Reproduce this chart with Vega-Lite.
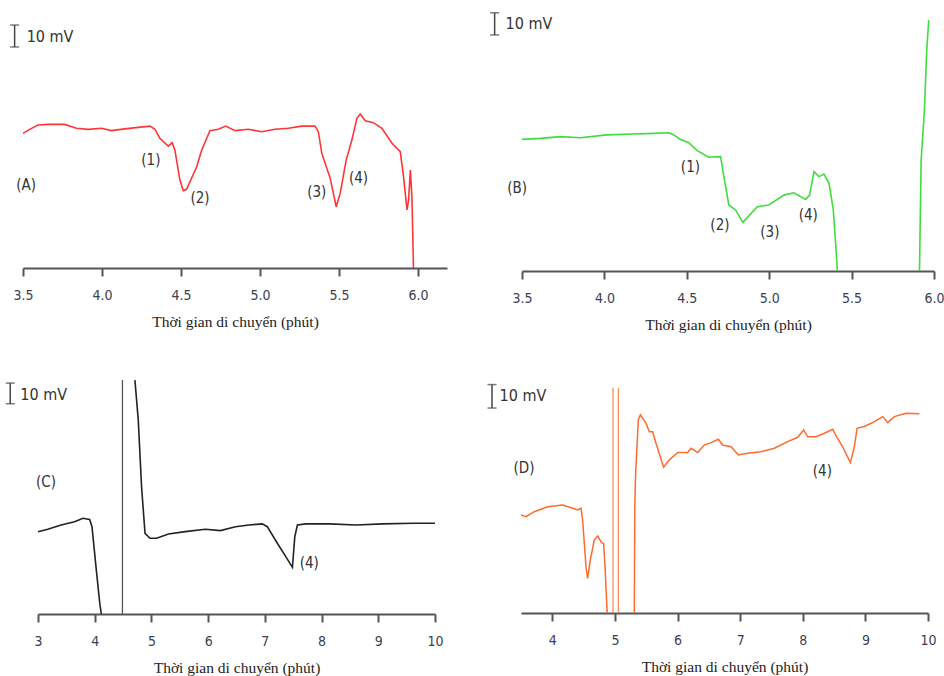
{
  "$schema": "https://vega.github.io/schema/vega-lite/v6.json",
  "padding": {"left": 5, "top": 10, "right": 0, "bottom": 0},
  "background": "white",
  "bounds": "flush",
  "spacing": 369,
  "config": {
    "view": {"stroke": null},
    "axis": {
      "grid": false,
      "domainColor": "#555",
      "domainWidth": 1.8,
      "tickColor": "#555",
      "tickWidth": 2,
      "tickSize": 8,
      "labelFont": "'DejaVu Sans Condensed', 'Liberation Sans', sans-serif",
      "labelFontSize": 14,
      "labelColor": "#3b4055",
      "labelPadding": 12,
      "labelFlush": false,
      "labelOverlap": false,
      "titleFont": "'Liberation Serif', serif",
      "titleFontSize": 15.5,
      "titleFontWeight": "normal",
      "titleColor": "#222",
      "titlePadding": 12
    },
    "text": {"font": "'DejaVu Sans Condensed', 'Liberation Sans', sans-serif", "fontSize": 15, "color": "#333"}
  },
  "datasets": {
    "a": [
      {"t": 3.5, "v": 62.6}, {"t": 3.542, "v": 64.5}, {"t": 3.595, "v": 66.5}, {"t": 3.658, "v": 66.8}, {"t": 3.764, "v": 66.8},
      {"t": 3.838, "v": 65.0}, {"t": 3.912, "v": 64.5}, {"t": 3.997, "v": 65.0}, {"t": 4.06, "v": 63.9}, {"t": 4.144, "v": 64.7},
      {"t": 4.229, "v": 65.4}, {"t": 4.303, "v": 66.0}, {"t": 4.335, "v": 64.5}, {"t": 4.366, "v": 60.3}, {"t": 4.419, "v": 56.7},
      {"t": 4.444, "v": 58.3}, {"t": 4.461, "v": 54.9}, {"t": 4.493, "v": 40.9}, {"t": 4.514, "v": 36.0}, {"t": 4.535, "v": 36.6},
      {"t": 4.599, "v": 47.1}, {"t": 4.631, "v": 54.9}, {"t": 4.683, "v": 63.9}, {"t": 4.736, "v": 64.5}, {"t": 4.783, "v": 66.0},
      {"t": 4.842, "v": 63.9}, {"t": 4.926, "v": 64.5}, {"t": 5.011, "v": 63.4}, {"t": 5.095, "v": 64.5}, {"t": 5.179, "v": 65.0},
      {"t": 5.264, "v": 66.0}, {"t": 5.348, "v": 66.0}, {"t": 5.369, "v": 63.4}, {"t": 5.391, "v": 53.3}, {"t": 5.444, "v": 41.7},
      {"t": 5.482, "v": 28.5}, {"t": 5.507, "v": 34.7}, {"t": 5.545, "v": 50.2}, {"t": 5.581, "v": 59.5}, {"t": 5.613, "v": 69.6},
      {"t": 5.634, "v": 71.6}, {"t": 5.666, "v": 68.5}, {"t": 5.718, "v": 67.6}, {"t": 5.771, "v": 65.0}, {"t": 5.835, "v": 58.0},
      {"t": 5.887, "v": 54.1}, {"t": 5.908, "v": 42.5}, {"t": 5.93, "v": 27.0}, {"t": 5.94, "v": 31.6}, {"t": 5.951, "v": 45.6},
      {"t": 5.961, "v": 33.2}, {"t": 5.971, "v": 0}
    ],
    "b": [
      {"seg": 1, "t": 3.5, "v": 61.2}, {"seg": 1, "t": 3.611, "v": 61.7}, {"seg": 1, "t": 3.733, "v": 62.5}, {"seg": 1, "t": 3.854, "v": 62.0},
      {"seg": 1, "t": 4.016, "v": 63.3}, {"seg": 1, "t": 4.178, "v": 63.7}, {"seg": 1, "t": 4.3, "v": 64.0}, {"seg": 1, "t": 4.391, "v": 64.3},
      {"seg": 1, "t": 4.421, "v": 63.3}, {"seg": 1, "t": 4.462, "v": 61.2}, {"seg": 1, "t": 4.512, "v": 59.7}, {"seg": 1, "t": 4.563, "v": 56.0},
      {"seg": 1, "t": 4.634, "v": 52.9}, {"seg": 1, "t": 4.705, "v": 53.2}, {"seg": 1, "t": 4.725, "v": 43.9}, {"seg": 1, "t": 4.755, "v": 30.7},
      {"seg": 1, "t": 4.796, "v": 28.4}, {"seg": 1, "t": 4.84, "v": 22.6}, {"seg": 1, "t": 4.928, "v": 29.9}, {"seg": 1, "t": 4.998, "v": 30.7},
      {"seg": 1, "t": 5.089, "v": 35.3}, {"seg": 1, "t": 5.15, "v": 36.4}, {"seg": 1, "t": 5.221, "v": 33.3}, {"seg": 1, "t": 5.245, "v": 35.3},
      {"seg": 1, "t": 5.272, "v": 46.2}, {"seg": 1, "t": 5.302, "v": 43.9}, {"seg": 1, "t": 5.332, "v": 45.1}, {"seg": 1, "t": 5.363, "v": 40.8},
      {"seg": 1, "t": 5.389, "v": 28.4}, {"seg": 1, "t": 5.403, "v": 12.9}, {"seg": 1, "t": 5.414, "v": 0},
      {"seg": 2, "t": 5.912, "v": 0}, {"seg": 2, "t": 5.922, "v": 51.6}, {"seg": 2, "t": 5.942, "v": 74.9}, {"seg": 2, "t": 5.956, "v": 102.8},
      {"seg": 2, "t": 5.968, "v": 116.7}
    ],
    "c": [
      {"seg": 1, "t": 3.0, "v": 38.3}, {"seg": 1, "t": 3.172, "v": 39.4}, {"seg": 1, "t": 3.408, "v": 41.4}, {"seg": 1, "t": 3.645, "v": 42.9},
      {"seg": 1, "t": 3.793, "v": 44.5}, {"seg": 1, "t": 3.911, "v": 44.0}, {"seg": 1, "t": 3.952, "v": 40.6}, {"seg": 1, "t": 4.028, "v": 20.5},
      {"seg": 1, "t": 4.089, "v": 5.0}, {"seg": 1, "t": 4.117, "v": 0},
      {"seg": 2, "t": 4.709, "v": 108.8}, {"seg": 2, "t": 4.768, "v": 90.2}, {"seg": 2, "t": 4.826, "v": 59.2}, {"seg": 2, "t": 4.887, "v": 37.5},
      {"seg": 2, "t": 4.975, "v": 35.2}, {"seg": 2, "t": 5.092, "v": 35.2}, {"seg": 2, "t": 5.3, "v": 37.2}, {"seg": 2, "t": 5.596, "v": 38.3},
      {"seg": 2, "t": 5.95, "v": 39.4}, {"seg": 2, "t": 6.216, "v": 38.8}, {"seg": 2, "t": 6.482, "v": 40.6}, {"seg": 2, "t": 6.718, "v": 41.4},
      {"seg": 2, "t": 6.954, "v": 41.9}, {"seg": 2, "t": 7.043, "v": 40.6}, {"seg": 2, "t": 7.22, "v": 32.9}, {"seg": 2, "t": 7.369, "v": 26.7},
      {"seg": 2, "t": 7.486, "v": 21.7}, {"seg": 2, "t": 7.528, "v": 36.0}, {"seg": 2, "t": 7.574, "v": 41.4}, {"seg": 2, "t": 7.723, "v": 41.9},
      {"seg": 2, "t": 8.137, "v": 41.9}, {"seg": 2, "t": 8.61, "v": 41.4}, {"seg": 2, "t": 9.082, "v": 41.9}, {"seg": 2, "t": 9.613, "v": 42.2},
      {"seg": 2, "t": 10.0, "v": 42.2}
    ],
    "d": [
      {"seg": 1, "t": 3.5, "v": 45.6}, {"seg": 1, "t": 3.58, "v": 44.8}, {"seg": 1, "t": 3.712, "v": 47.1}, {"seg": 1, "t": 3.925, "v": 49.4},
      {"seg": 1, "t": 4.165, "v": 50.2}, {"seg": 1, "t": 4.324, "v": 48.7}, {"seg": 1, "t": 4.404, "v": 47.9}, {"seg": 1, "t": 4.458, "v": 48.7},
      {"seg": 1, "t": 4.484, "v": 43.3}, {"seg": 1, "t": 4.538, "v": 21.5}, {"seg": 1, "t": 4.564, "v": 16.1}, {"seg": 1, "t": 4.607, "v": 24.7},
      {"seg": 1, "t": 4.671, "v": 34.0}, {"seg": 1, "t": 4.724, "v": 35.8}, {"seg": 1, "t": 4.788, "v": 32.7}, {"seg": 1, "t": 4.82, "v": 32.4},
      {"seg": 1, "t": 4.842, "v": 21.5}, {"seg": 1, "t": 4.874, "v": 1.4}, {"seg": 1, "t": 4.88, "v": 0},
      {"seg": 2, "t": 5.31, "v": 0}, {"seg": 2, "t": 5.318, "v": 50}, {"seg": 2, "t": 5.33, "v": 64.2}, {"seg": 2, "t": 5.374, "v": 89.8},
      {"seg": 2, "t": 5.406, "v": 92.1}, {"seg": 2, "t": 5.497, "v": 88.2}, {"seg": 2, "t": 5.55, "v": 84.3}, {"seg": 2, "t": 5.602, "v": 84.3},
      {"seg": 2, "t": 5.656, "v": 78.9}, {"seg": 2, "t": 5.778, "v": 67.8}, {"seg": 2, "t": 5.869, "v": 71.2}, {"seg": 2, "t": 6.002, "v": 74.6},
      {"seg": 2, "t": 6.161, "v": 74.6}, {"seg": 2, "t": 6.216, "v": 76.6}, {"seg": 2, "t": 6.321, "v": 74.6}, {"seg": 2, "t": 6.428, "v": 78.1},
      {"seg": 2, "t": 6.535, "v": 79.2}, {"seg": 2, "t": 6.652, "v": 80.8}, {"seg": 2, "t": 6.72, "v": 78.1}, {"seg": 2, "t": 6.855, "v": 77.3},
      {"seg": 2, "t": 6.971, "v": 73.5}, {"seg": 2, "t": 7.12, "v": 74.3}, {"seg": 2, "t": 7.334, "v": 75.0}, {"seg": 2, "t": 7.546, "v": 76.6},
      {"seg": 2, "t": 7.759, "v": 79.7}, {"seg": 2, "t": 7.919, "v": 81.7}, {"seg": 2, "t": 8.014, "v": 85.1}, {"seg": 2, "t": 8.078, "v": 82.0},
      {"seg": 2, "t": 8.212, "v": 82.0}, {"seg": 2, "t": 8.345, "v": 83.6}, {"seg": 2, "t": 8.478, "v": 85.4}, {"seg": 2, "t": 8.532, "v": 82.3},
      {"seg": 2, "t": 8.637, "v": 77.3}, {"seg": 2, "t": 8.76, "v": 69.9}, {"seg": 2, "t": 8.824, "v": 77.3}, {"seg": 2, "t": 8.867, "v": 85.9},
      {"seg": 2, "t": 8.984, "v": 86.7}, {"seg": 2, "t": 9.144, "v": 89.0}, {"seg": 2, "t": 9.276, "v": 91.3}, {"seg": 2, "t": 9.356, "v": 88.5},
      {"seg": 2, "t": 9.463, "v": 91.3}, {"seg": 2, "t": 9.65, "v": 92.9}, {"seg": 2, "t": 9.863, "v": 92.6}
    ],
    "cSpike": [{"t": 4.489, "v0": 0, "v1": 108.8}],
    "dSpike": [{"t": 4.97, "v0": 0, "v1": 104.7}, {"t": 5.055, "v0": 0, "v1": 104.7}],
    "aLab": [
      {"t": 3.52, "v": 38.6, "label": "(A)"}, {"t": 4.309, "v": 50.2, "label": "(1)"}, {"t": 4.62, "v": 32.4, "label": "(2)"},
      {"t": 5.359, "v": 35.5, "label": "(3)"}, {"t": 5.623, "v": 41.7, "label": "(4)"}
    ],
    "bLab": [
      {"t": 3.471, "v": 38.5, "label": "(B)"}, {"t": 4.522, "v": 48.5, "label": "(1)"}, {"t": 4.701, "v": 21.4, "label": "(2)"},
      {"t": 5.004, "v": 18.3, "label": "(3)"}, {"t": 5.237, "v": 26.0, "label": "(4)"}
    ],
    "cLab": [{"t": 3.142, "v": 61.5, "label": "(C)"}, {"t": 7.782, "v": 23.6, "label": "(4)"}],
    "dLab": [{"t": 3.548, "v": 67.4, "label": "(D)"}, {"t": 8.313, "v": 66.2, "label": "(4)"}],
    "aBar": [{"t": 3.447, "v0": 102.8, "v1": 113.0, "ut": 3.523, "uv": 107.4, "unit": "10 mV"}],
    "bBar": [{"t": 3.334, "v0": 109.8, "v1": 120.1, "ut": 3.4, "uv": 114.9, "unit": "10 mV"}],
    "cBar": [{"t": 2.511, "v0": 97.8, "v1": 107.4, "ut": 2.688, "uv": 102.0, "unit": "10 mV"}],
    "dBar": [{"t": 3.037, "v0": 95.3, "v1": 106.2, "ut": 3.158, "uv": 100.8, "unit": "10 mV"}]
  },
  "vconcat": [
    {
      "bounds": "flush",
      "spacing": 75,
      "hconcat": [
        {
          "width": 424, "height": 258,
          "layer": [
            {
              "data": {"name": "a"},
              "mark": {"type": "line", "color": "#ff3535", "strokeWidth": 1.6, "clip": true},
              "encoding": {
                "x": {"field": "t", "type": "quantitative", "title": "Thời gian di chuyển (phút)",
                      "scale": {"domain": [3.5, 6.183], "nice": false, "zero": false},
                      "axis": {"values": [3.5, 4.0, 4.5, 5.0, 5.5, 6.0], "format": ".1f"}},
                "y": {"field": "v", "type": "quantitative", "scale": {"domain": [0, 120], "nice": false}, "axis": null}
              }
            },
            {
              "data": {"name": "aLab"},
              "mark": {"type": "text", "align": "center", "baseline": "middle"},
              "encoding": {"x": {"field": "t", "type": "quantitative"}, "y": {"field": "v", "type": "quantitative"}, "text": {"field": "label"}}
            },
            {
              "data": {"name": "aBar"},
              "layer": [
                {"mark": {"type": "rule", "color": "#444", "strokeWidth": 1.5},
                 "encoding": {"x": {"field": "t", "type": "quantitative"}, "y": {"field": "v0", "type": "quantitative"}, "y2": {"field": "v1"}}},
                {"mark": {"type": "tick", "orient": "horizontal", "size": 9, "thickness": 1.5, "color": "#444"},
                 "encoding": {"x": {"field": "t", "type": "quantitative"}, "y": {"field": "v0", "type": "quantitative"}}},
                {"mark": {"type": "tick", "orient": "horizontal", "size": 9, "thickness": 1.5, "color": "#444"},
                 "encoding": {"x": {"field": "t", "type": "quantitative"}, "y": {"field": "v1", "type": "quantitative"}}},
                {"mark": {"type": "text", "align": "left", "baseline": "middle", "fontSize": 16},
                 "encoding": {"x": {"field": "ut", "type": "quantitative"}, "y": {"field": "uv", "type": "quantitative"}, "text": {"field": "unit"}}}
              ]
            }
          ]
        },
        {
          "width": 412, "height": 261,
          "layer": [
            {
              "data": {"name": "b"},
              "mark": {"type": "line", "color": "#3fdc3f", "strokeWidth": 1.6, "clip": true},
              "encoding": {
                "x": {"field": "t", "type": "quantitative", "title": "Thời gian di chuyển (phút)",
                      "scale": {"domain": [3.5, 6.0], "nice": false, "zero": false},
                      "axis": {"values": [3.5, 4.0, 4.5, 5.0, 5.5, 6.0], "format": ".1f"}},
                "y": {"field": "v", "type": "quantitative", "scale": {"domain": [0, 121.4], "nice": false}, "axis": null},
                "detail": {"field": "seg", "type": "nominal"}
              }
            },
            {
              "data": {"name": "bLab"},
              "mark": {"type": "text", "align": "center", "baseline": "middle"},
              "encoding": {"x": {"field": "t", "type": "quantitative"}, "y": {"field": "v", "type": "quantitative"}, "text": {"field": "label"}}
            },
            {
              "data": {"name": "bBar"},
              "layer": [
                {"mark": {"type": "rule", "color": "#444", "strokeWidth": 1.5},
                 "encoding": {"x": {"field": "t", "type": "quantitative"}, "y": {"field": "v0", "type": "quantitative"}, "y2": {"field": "v1"}}},
                {"mark": {"type": "tick", "orient": "horizontal", "size": 9, "thickness": 1.5, "color": "#444"},
                 "encoding": {"x": {"field": "t", "type": "quantitative"}, "y": {"field": "v0", "type": "quantitative"}}},
                {"mark": {"type": "tick", "orient": "horizontal", "size": 9, "thickness": 1.5, "color": "#444"},
                 "encoding": {"x": {"field": "t", "type": "quantitative"}, "y": {"field": "v1", "type": "quantitative"}}},
                {"mark": {"type": "text", "align": "left", "baseline": "middle", "fontSize": 16},
                 "encoding": {"x": {"field": "ut", "type": "quantitative"}, "y": {"field": "uv", "type": "quantitative"}, "text": {"field": "unit"}}}
              ]
            }
          ]
        }
      ]
    },
    {
      "bounds": "flush",
      "spacing": 86,
      "hconcat": [
        {
          "width": 412, "height": 235,
          "layer": [
            {
              "data": {"name": "c"},
              "mark": {"type": "line", "color": "#222", "strokeWidth": 1.6, "clip": true},
              "encoding": {
                "x": {"field": "t", "type": "quantitative", "title": "Thời gian di chuyển (phút)",
                      "scale": {"domain": [3, 10], "range": [15, 412], "nice": false, "zero": false},
                      "axis": {"values": [3, 4, 5, 6, 7, 8, 9, 10], "format": "d"}},
                "y": {"field": "v", "type": "quantitative", "scale": {"domain": [0, 109.3], "nice": false}, "axis": null},
                "detail": {"field": "seg", "type": "nominal"}
              }
            },
            {
              "data": {"name": "cSpike"},
              "mark": {"type": "rule", "color": "#555", "strokeWidth": 1.3},
              "encoding": {"x": {"field": "t", "type": "quantitative"}, "y": {"field": "v0", "type": "quantitative"}, "y2": {"field": "v1"}}
            },
            {
              "data": {"name": "cLab"},
              "mark": {"type": "text", "align": "center", "baseline": "middle"},
              "encoding": {"x": {"field": "t", "type": "quantitative"}, "y": {"field": "v", "type": "quantitative"}, "text": {"field": "label"}}
            },
            {
              "data": {"name": "cBar"},
              "layer": [
                {"mark": {"type": "rule", "color": "#444", "strokeWidth": 1.5},
                 "encoding": {"x": {"field": "t", "type": "quantitative"}, "y": {"field": "v0", "type": "quantitative"}, "y2": {"field": "v1"}}},
                {"mark": {"type": "tick", "orient": "horizontal", "size": 9, "thickness": 1.5, "color": "#444"},
                 "encoding": {"x": {"field": "t", "type": "quantitative"}, "y": {"field": "v0", "type": "quantitative"}}},
                {"mark": {"type": "tick", "orient": "horizontal", "size": 9, "thickness": 1.5, "color": "#444"},
                 "encoding": {"x": {"field": "t", "type": "quantitative"}, "y": {"field": "v1", "type": "quantitative"}}},
                {"mark": {"type": "text", "align": "left", "baseline": "middle", "fontSize": 16},
                 "encoding": {"x": {"field": "ut", "type": "quantitative"}, "y": {"field": "uv", "type": "quantitative"}, "text": {"field": "unit"}}}
              ]
            }
          ]
        },
        {
          "width": 407, "height": 234,
          "layer": [
            {
              "data": {"name": "d"},
              "mark": {"type": "line", "color": "#ff6a2e", "strokeWidth": 1.5, "clip": true},
              "encoding": {
                "x": {"field": "t", "type": "quantitative", "title": "Thời gian di chuyển (phút)",
                      "scale": {"domain": [3.5, 10], "nice": false, "zero": false},
                      "axis": {"values": [4, 5, 6, 7, 8, 9, 10], "format": "d"}},
                "y": {"field": "v", "type": "quantitative", "scale": {"domain": [0, 108.8], "nice": false}, "axis": null},
                "detail": {"field": "seg", "type": "nominal"}
              }
            },
            {
              "data": {"name": "dSpike"},
              "mark": {"type": "rule", "color": "#ff8a55", "strokeWidth": 1.3},
              "encoding": {"x": {"field": "t", "type": "quantitative"}, "y": {"field": "v0", "type": "quantitative"}, "y2": {"field": "v1"}}
            },
            {
              "data": {"name": "dLab"},
              "mark": {"type": "text", "align": "center", "baseline": "middle"},
              "encoding": {"x": {"field": "t", "type": "quantitative"}, "y": {"field": "v", "type": "quantitative"}, "text": {"field": "label"}}
            },
            {
              "data": {"name": "dBar"},
              "layer": [
                {"mark": {"type": "rule", "color": "#444", "strokeWidth": 1.5},
                 "encoding": {"x": {"field": "t", "type": "quantitative"}, "y": {"field": "v0", "type": "quantitative"}, "y2": {"field": "v1"}}},
                {"mark": {"type": "tick", "orient": "horizontal", "size": 9, "thickness": 1.5, "color": "#444"},
                 "encoding": {"x": {"field": "t", "type": "quantitative"}, "y": {"field": "v0", "type": "quantitative"}}},
                {"mark": {"type": "tick", "orient": "horizontal", "size": 9, "thickness": 1.5, "color": "#444"},
                 "encoding": {"x": {"field": "t", "type": "quantitative"}, "y": {"field": "v1", "type": "quantitative"}}},
                {"mark": {"type": "text", "align": "left", "baseline": "middle", "fontSize": 16},
                 "encoding": {"x": {"field": "ut", "type": "quantitative"}, "y": {"field": "uv", "type": "quantitative"}, "text": {"field": "unit"}}}
              ]
            }
          ]
        }
      ]
    }
  ]
}
